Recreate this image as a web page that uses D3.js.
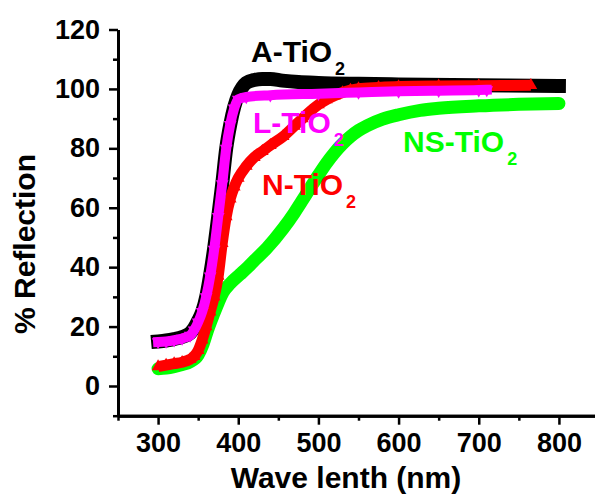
<!DOCTYPE html>
<html><head><meta charset="utf-8">
<script src="https://cdn.jsdelivr.net/npm/d3@7"></script>
<style>html,body{margin:0;padding:0;background:#fff;} svg{display:block;font-family:Arial,"Liberation Sans",sans-serif;font-weight:bold;}</style>
</head><body><svg id="c" width="595" height="495"></svg>
<script>
// ---- data ----
const xTicks = [300, 400, 500, 600, 700, 800];
const xMinor = [250, 350, 450, 550, 650, 750];
const yTicks = [0, 20, 40, 60, 80, 100, 120];
const yMinor = [-10, 10, 30, 50, 70, 90, 110];

const aX = [300,310,320,330,340,345,350,355,360,365,370,375,380,385,390,395,400,405,410,420,430,440,455,475,500,550,600,700,800];
const aY = [15,15.3,15.8,16.5,17.8,19.5,22,25,30,37.5,46.5,57,68,80,88,94,98,100.5,102,103,103.3,103.3,102.8,102.3,102,101.7,101.5,101.2,101];

const lX = [300,310,320,330,340,345,350,355,360,365,370,375,380,385,390,395,400,410,440,500,550,600,650,700,710];
const lY = [14.8,15,15.4,16,17,18.8,21.5,25,30,37,46,57,68,80,88,93.5,96.5,97.3,97.9,98.4,98.8,99.2,99.4,99.6,99.7];

const nX = [300,310,320,330,340,345,350,355,360,365,370,375,380,385,390,395,400,410,420,430,440,456,470,480,490,500,510,520,530,540,550,575,600,650,700,765];
const nY = [6.5,7,7.5,8,9,10,12,15.5,20,25,30,37,48,57,63,67,70,74,77,79,81,84,87.5,90,92.5,94.7,96.4,97.7,98.8,99.6,100.1,100.5,100.8,101,101.1,101.2];

const gX = [300,310,320,330,340,350,356,362,369,375,381,390,402,412,423,436,456,470,480,490,500,510,520,530,540,550,560,580,600,627,650,700,750,800];
const gY = [5.8,6,6.5,7.2,8.2,10.5,14,19,24,28,31.5,34.5,37.5,40,43,46.5,53,58.3,62.5,66.8,71,75,78.5,81.5,84,86,87.5,89.8,91.3,92.8,93.5,94.3,94.8,95.1];

const seriesNames = ["NS-TiO", "A-TiO", "N-TiO", "L-TiO"];
const seriesColors = ["#00ff00", "#000000", "#ff0000", "#ff00ff"];

// ---- chart ----
const svg = d3.select("#c");
const x = d3.scaleLinear().domain([250, 850]).range([118, 599]);
const y = d3.scaleLinear().domain([-10, 120]).range([415.7, 29.5]);

const zip = (xs, ys) => xs.map((v, i) => [v, ys[i]]);
const line = d3.line().x(d => x(d[0])).y(d => y(d[1])).curve(d3.curveMonotoneX);

const series = [
  {data: zip(gX, gY), color: seriesColors[0], w: 13, cap: "round", sym: null},
  {data: zip(aX, aY), color: seriesColors[1], w: 14, cap: "square", sym: null},
  {data: zip(nX, nY), color: seriesColors[2], w: 11, cap: "butt", sym: "up"},
  {data: zip(lX, lY), color: seriesColors[3], w: 10, cap: "square", sym: "down"}
];
series.forEach(s => {
  svg.append("path").attr("d", line(s.data)).attr("fill", "none")
    .attr("stroke", s.color).attr("stroke-width", s.w)
    .attr("stroke-linecap", s.cap).attr("stroke-linejoin", "round");
  if (s.sym) {
    const sym = d3.symbol().type(d3.symbolTriangle).size(70);
    svg.append("g").selectAll("path").data(s.data).join("path")
      .attr("d", sym)
      .attr("transform", d => `translate(${x(d[0])},${y(d[1])})${s.sym === "down" ? " rotate(180)" : ""}`)
      .attr("fill", s.color);
  }
});

// axes
const gx = svg.append("g").attr("transform", `translate(0,${y(-10)})`);
gx.call(d3.axisBottom(x).tickValues(xTicks).tickSize(9).tickSizeOuter(0).tickPadding(8));
const gxm = svg.append("g").attr("transform", `translate(0,${y(-10)})`);
gxm.call(d3.axisBottom(x).tickValues(xMinor).tickSize(5).tickSizeOuter(0).tickFormat(""));
const gy = svg.append("g").attr("transform", `translate(${x(250)},0)`);
gy.call(d3.axisLeft(y).tickValues(yTicks).tickSize(9).tickSizeOuter(0).tickPadding(9));
const gym = svg.append("g").attr("transform", `translate(${x(250)},0)`);
gym.call(d3.axisLeft(y).tickValues(yMinor).tickSize(5).tickSizeOuter(0).tickFormat(""));

svg.selectAll(".domain").attr("stroke", "#000").attr("stroke-width", 3);
svg.selectAll(".tick line").attr("stroke", "#000").attr("stroke-width", 2.5);
svg.selectAll(".tick text").attr("fill", "#000").style("font-size", "27px")
  .style("font-family", "Arial, 'Liberation Sans', sans-serif").style("font-weight", "bold");

// axis titles
svg.append("text").attr("x", 346).attr("y", 488).attr("text-anchor", "middle")
  .style("font-size", "30px").text("Wave lenth (nm)");
svg.append("text").attr("transform", "translate(35,244) rotate(-90)").attr("text-anchor", "middle")
  .style("font-size", "30px").text("% Reflection");

// series labels
const labels = [
  {name: seriesNames[1], color: seriesColors[1], x: 251, y: 62},
  {name: seriesNames[3], color: seriesColors[3], x: 253, y: 133},
  {name: seriesNames[2], color: seriesColors[2], x: 262, y: 195},
  {name: seriesNames[0], color: seriesColors[0], x: 403, y: 152}
];
labels.forEach(l => {
  const t = svg.append("text").attr("x", l.x).attr("y", l.y).attr("fill", l.color).style("font-size", "30px");
  t.append("tspan").text(l.name);
  t.append("tspan").attr("dx", 3).attr("dy", 13).style("font-size", "18px").text("2");
});
</script></body></html>
